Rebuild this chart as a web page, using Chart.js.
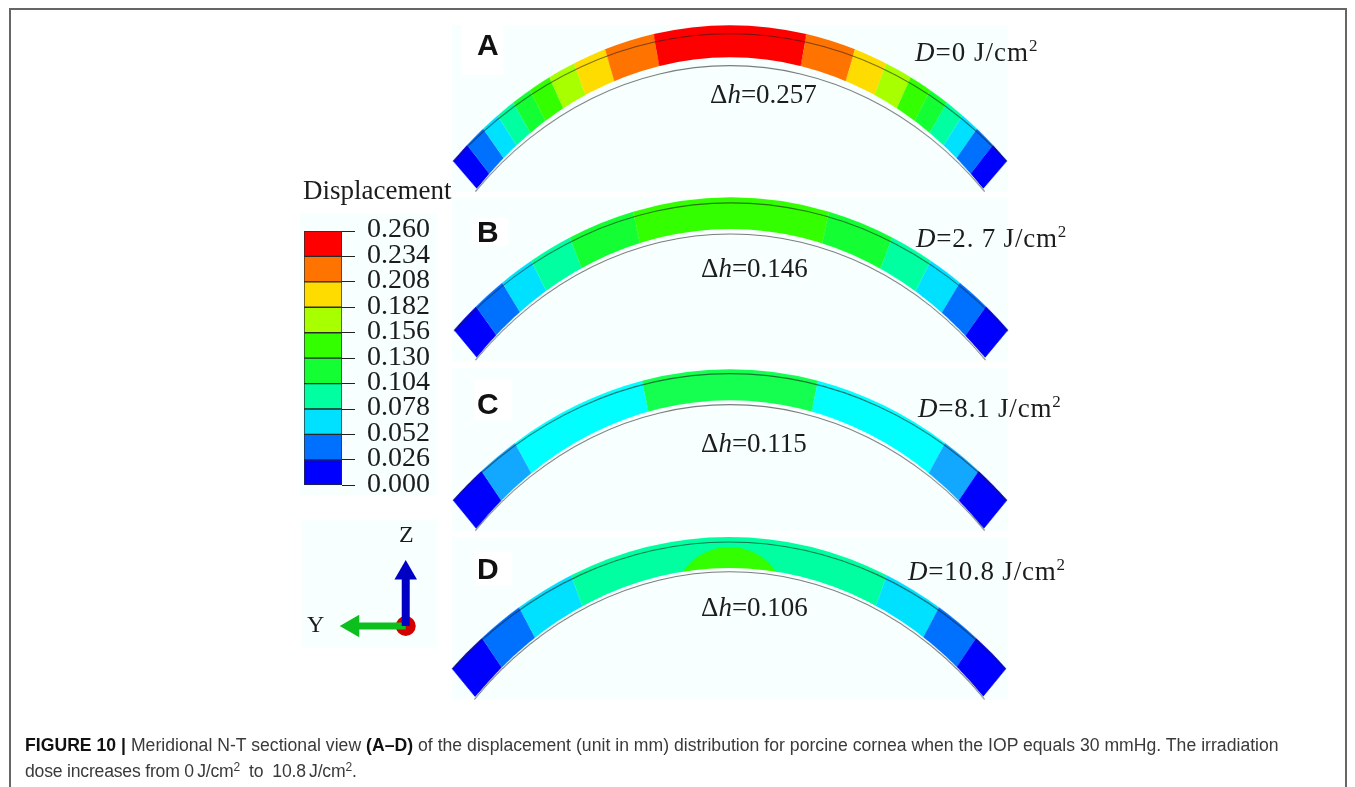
<!DOCTYPE html>
<html>
<head>
<meta charset="utf-8">
<script src="https://cdn.jsdelivr.net/npm/chart.js@4"></script>
<style>
  html, body { margin: 0; background: #fff; }
  #page { position: relative; width: 1355px; height: 787px; overflow: hidden; }
  #page canvas, .box, .txt { position: absolute; }
  #page canvas { filter: blur(0.5px); }
  .box { background: #f8ffff; }
  .white { background: #fff; }
  .strip { background: #fff; z-index: 3; left: 445px; width: 570px; }
  .rule { position: absolute; background: #666; }
  .txt { white-space: nowrap; color: #1c1c1c; font-family: "Liberation Serif", serif; font-size: 27px; line-height: 30px; z-index: 5; filter: blur(0.3px); }
  .txt sup { font-size: 17px; line-height: 0; vertical-align: 10px; }
  .letter { font-family: "Liberation Sans", sans-serif; font-weight: bold; font-size: 30px; color: #111; }
  .cap { font-family: "Liberation Sans", sans-serif; font-size: 17.6px; line-height: 20px; color: #3a3a3a; letter-spacing: 0.025px; }
  .cap b { color: #111; }
  .cap sup { font-size: 12px; vertical-align: 6px; }
</style>
</head>
<body>
<div id="page">
  <div class="rule" style="left:9px;top:8px;width:1.5px;height:779px"></div>
  <div class="rule" style="left:9px;top:8px;width:1337px;height:1.5px"></div>
  <div class="rule" style="left:1345px;top:8px;width:1.5px;height:779px"></div>

  <div class="box" style="left:452px;top:25px;width:556px;height:167px"></div>
  <div class="box" style="left:452px;top:197px;width:556px;height:165px"></div>
  <div class="box" style="left:452px;top:368px;width:556px;height:164px"></div>
  <div class="box" style="left:452px;top:537px;width:556px;height:163px"></div>
  <div class="box" style="left:300px;top:213px;width:137px;height:282px"></div>
  <div class="box" style="left:302px;top:520px;width:135px;height:128px"></div>
  <div class="box white" style="left:462px;top:25px;width:41px;height:50px"></div>
  <div class="box white" style="left:472px;top:218px;width:36px;height:28px"></div>
  <div class="box white" style="left:474px;top:380px;width:38px;height:40px"></div>
  <div class="box white" style="left:474px;top:552px;width:38px;height:33px"></div>
  <div class="box strip" style="top:192px;height:5px"></div>
  <div class="box strip" style="top:362px;height:6px"></div>
  <div class="box strip" style="top:532px;height:5px"></div>
  <div class="box strip" style="top:700px;height:35px"></div>

  <div class="txt letter" style="left:477px;top:30px">A</div>
  <div class="txt letter" style="left:477px;top:217px">B</div>
  <div class="txt letter" style="left:477px;top:389px">C</div>
  <div class="txt letter" style="left:477px;top:554px">D</div>

  <div class="txt" style="left:710px;top:79px">&Delta;<i>h</i>=0.257</div>
  <div class="txt" style="left:701px;top:253px">&Delta;<i>h</i>=0.146</div>
  <div class="txt" style="left:701px;top:428px">&Delta;<i>h</i>=0.115</div>
  <div class="txt" style="left:701px;top:592px">&Delta;<i>h</i>=0.106</div>

  <div class="txt" style="left:915px;top:37px;letter-spacing:1px"><i>D</i>=0 J/cm<sup>2</sup></div>
  <div class="txt" style="left:916px;top:223px;letter-spacing:.8px"><i>D</i>=2. 7 J/cm<sup>2</sup></div>
  <div class="txt" style="left:918px;top:393px;letter-spacing:.8px"><i>D</i>=8.1 J/cm<sup>2</sup></div>
  <div class="txt" style="left:908px;top:556px;letter-spacing:.8px"><i>D</i>=10.8 J/cm<sup>2</sup></div>

  <div class="txt" style="left:303px;top:175px">Displacement</div>
  <div class="txt" style="left:399px;top:519px;font-size:24px">Z</div>
  <div class="txt" style="left:307px;top:609px;font-size:24px">Y</div>

  <div class="txt cap" style="left:25px;top:735px"><b>FIGURE 10 |</b> Meridional N-T sectional view <b>(A&ndash;D)</b> of the displacement (unit in mm) distribution for porcine cornea when the IOP equals 30 mmHg. The irradiation</div>
  <div class="txt cap" style="left:25px;top:761px;letter-spacing:-0.2px">dose increases from 0&#8201;J/cm<sup>2</sup><span style="margin-left:9px">to</span><span style="margin-left:9px">10.8&#8201;J/cm<sup>2</sup>.</span></div>
</div>

<script>
const legendLabels = ['0.260', '0.234', '0.208', '0.182', '0.156', '0.130', '0.104', '0.078', '0.052', '0.026', '0.000'];
const legendBands = ['navy', 'blue', 'cyan', 'teal', 'green2', 'green', 'lime', 'yellow', 'orange', 'red'];
const legendSteps = [0.026, 0.026, 0.026, 0.026, 0.026, 0.026, 0.026, 0.026, 0.026, 0.026];

// contour bands along each section, left to right, width in degrees of arc
const bandsA = ['navy', 'blue', 'cyan', 'teal', 'green2', 'green', 'lime', 'yellow', 'orange', 'red', 'orange', 'yellow', 'lime', 'green', 'green2', 'teal', 'cyan', 'blue', 'navy'];
const widthsA = [2.9, 3.1, 2.7, 2.8, 2.9, 3.3, 4.0, 4.9, 7.4, 22.6, 7.4, 4.9, 4.0, 3.3, 2.9, 2.8, 2.7, 3.1, 2.9];
const bandsB = ['navy', 'blue', 'cyan', 'teal', 'green2', 'green', 'green2', 'teal', 'cyan', 'blue', 'navy'];
const widthsB = [4.4, 4.9, 5.1, 6.4, 9.9, 29.2, 9.9, 6.4, 5.1, 4.9, 4.4];
const bandsC = ['navy', 'sky', 'aqua', 'green3', 'aqua', 'sky', 'navy'];
const widthsC = [5.6, 6.1, 20.5, 26.2, 20.5, 6.1, 5.6];
const bandsD = ['navy', 'blue', 'cyan', 'teal', 'cyan', 'blue', 'navy'];
const widthsD = [5.9, 6.7, 8.7, 48.0, 8.7, 6.7, 5.9];
const capD = [1];

const axisZ = [[0, 0], [0, 1]];
const axisY = [[0, 0], [-1, 0]];
const origin = [[0, 0]];

const palette = {
  red: '#ff0000', orange: '#ff7300', yellow: '#ffdc00', lime: '#a8ff00', green: '#33ff00',
  green2: '#14ff33', teal: '#00ffa0', cyan: '#00e1ff', blue: '#0070ff', navy: '#0000ff',
  sky: '#12a8ff', aqua: '#00ffff', green3: '#14ff50'
};
const BG = '#f8ffff';
const SX = 0.85;   // sections are elliptical in the figure, squeezed sideways

const page = document.getElementById('page');

function addCanvas(left, top, w, h, extra) {
  const c = document.createElement('canvas');
  c.width = w;
  c.height = h;
  c.style.left = left + 'px';
  c.style.top = top + 'px';
  c.style.width = w + 'px';
  c.style.height = h + 'px';
  if (extra) c.style.transform = extra;
  page.appendChild(c);
  return c;
}

const base = {
  responsive: false,
  animation: false,
  events: [],
  plugins: { legend: { display: false }, tooltip: { enabled: false } }
};

// arc through (cx, top) and (cx +- halfW, tipY), in unsqueezed space
function arcOf(top, halfW, tipY) {
  const dx = halfW / SX;
  const sag = tipY - top;
  const R = (dx * dx + sag * sag) / (2 * sag);
  return { R, cy: top + R, theta: Math.atan2(dx, R - sag) };
}

function ring(cx, top, halfW, tipY, innerR, values, colors) {
  const a = arcOf(top, halfW, tipY);
  const w = Math.ceil(2 * a.R * Math.sin(a.theta));
  const h = Math.ceil(a.R - innerR(a) * Math.cos(a.theta));
  const c = addCanvas(cx - w / 2, top, w, h, 'scaleX(' + SX + ')');
  new Chart(c, {
    type: 'doughnut',
    data: { datasets: [{ data: values, backgroundColor: colors, borderWidth: 0 }] },
    options: Object.assign({}, base, {
      rotation: -a.theta * 180 / Math.PI,
      circumference: 2 * a.theta * 180 / Math.PI,
      cutout: (100 * innerR(a) / a.R) + '%'
    })
  });
}

function section(p, widths, bands, cap) {
  const colors = bands.map(b => palette[b]);
  // colour body, its inner edge sits on the undeformed line
  ring(p.cx, p.top, p.halfW, p.tipY, a => {
    const dx = p.innerHalfW / SX, dy = a.cy - p.innerTipY;
    return Math.sqrt(dx * dx + dy * dy);
  }, widths, colors);

  if (cap) {
    const c = addCanvas(p.cx - cap.r, cap.top, 2 * cap.r, cap.r);
    new Chart(c, {
      type: 'pie',
      data: { datasets: [{ data: capD, backgroundColor: palette.green, borderWidth: 0 }] },
      options: Object.assign({}, base, { rotation: -90, circumference: 180 })
    });
  }

  // pale gap between deformed body and the undeformed inner line
  ring(p.cx, p.gapTop, p.innerHalfW, p.innerTipY, a => a.R - (cap ? 42 : 14), [1], [BG]);

  // thin undeformed outlines
  ring(p.cx, p.lineTop, p.halfW, p.tipY, a => a.R - 1.1, [1], ['rgba(30,30,30,0.6)']);
  ring(p.cx, p.lineBottom, p.innerHalfW, p.innerTipY, a => a.R - 1.1, [1], ['rgba(70,70,70,0.7)']);
}

section({ cx: 730, top: 25, halfW: 276.7, tipY: 160.7, innerHalfW: 255, innerTipY: 191, gapTop: 57, lineTop: 33, lineBottom: 65 }, widthsA, bandsA);
section({ cx: 730.6, top: 197.3, halfW: 276.7, tipY: 330, innerHalfW: 255.2, innerTipY: 359.3, gapTop: 229, lineTop: 201.7, lineBottom: 233 }, widthsB, bandsB);
section({ cx: 730.3, top: 369, halfW: 277, tipY: 500, innerHalfW: 255, innerTipY: 530, gapTop: 400, lineTop: 373, lineBottom: 404 }, widthsC, bandsC);
section({ cx: 729, top: 536.7, halfW: 276.8, tipY: 668.3, innerHalfW: 255.2, innerTipY: 698.3, gapTop: 568, lineTop: 541, lineBottom: 570.7 }, widthsD, bandsD, { r: 57.5, top: 547 });

// colour legend
new Chart(addCanvas(303, 215, 136, 285), {
  type: 'bar',
  data: {
    labels: ['displacement'],
    datasets: legendBands.map((b, i) => ({
      data: [legendSteps[i]],
      backgroundColor: palette[b],
      borderColor: '#2a2a2a',
      borderWidth: 1,
      borderSkipped: false,
      barPercentage: 1,
      categoryPercentage: 1
    }))
  },
  options: Object.assign({}, base, {
    layout: { padding: { left: 1, top: 16, bottom: 14.7, right: 0 } },
    scales: {
      x: { stacked: true, display: false },
      y: {
        stacked: true,
        position: 'right',
        min: 0,
        max: 0.26,
        afterFit: s => { s.width = 97; s.paddingTop = 0; s.paddingBottom = 0; },
        border: { display: false },
        grid: { drawOnChartArea: false, tickLength: 13, tickColor: '#222', tickWidth: 1 },
        ticks: {
          stepSize: 0.026,
          autoSkip: false,
          padding: 12,
          labelOffset: -1,
          color: '#1c1c1c',
          font: { family: 'Liberation Serif', size: 28 },
          callback: (v, i) => legendLabels[legendLabels.length - 1 - i]
        }
      }
    }
  })
});

// coordinate triad
const triadPts = a => a.map(p => ({ x: p[0], y: p[1] }));
new Chart(addCanvas(302, 520, 135, 128), {
  type: 'scatter',
  data: {
    datasets: [
      { data: triadPts(axisZ), showLine: true, borderColor: '#0000c4', backgroundColor: '#0000c4', borderWidth: 8, pointStyle: 'triangle', pointRadius: [0, 13], pointBorderWidth: 0, pointRotation: 0 },
      { data: triadPts(axisY), showLine: true, borderColor: '#0cbf1c', backgroundColor: '#0cbf1c', borderWidth: 7, pointStyle: 'triangle', pointRadius: [0, 13], pointBorderWidth: 0, pointRotation: -90 },
      { data: triadPts(origin), backgroundColor: '#d40000', pointRadius: 10, pointBorderWidth: 0 }
    ]
  },
  options: Object.assign({}, base, {
    layout: { padding: 0, autoPadding: false },
    scales: {
      x: { display: false, min: -1.957, max: 0.59 },
      y: { display: false, min: -0.415, max: 2 }
    }
  })
});
</script>
</body>
</html>
